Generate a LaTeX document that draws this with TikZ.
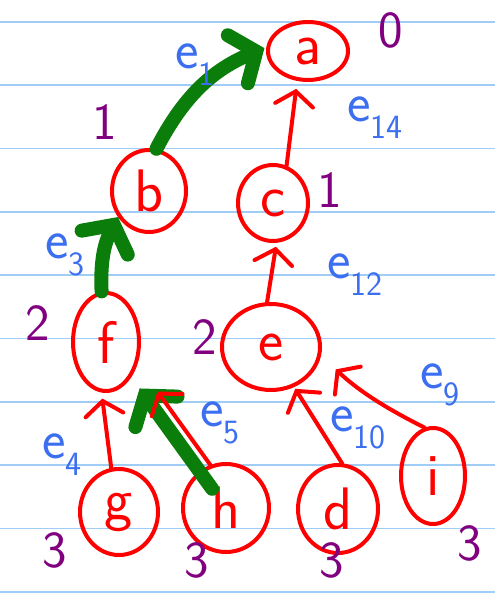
\documentclass[tikz,border=0pt]{standalone}
\usepackage{fontspec}
\usetikzlibrary{shapes.geometric,arrows.meta}
\definecolor{inkred}{RGB}{255,0,0}
\definecolor{inkgreen}{RGB}{10,125,10}
\definecolor{inkblue}{RGB}{60,110,240}
\definecolor{inkpurple}{RGB}{128,0,128}
\definecolor{ruled}{RGB}{160,205,245}
\newcommand{\elab}[1]{e\raisebox{-0.3em}{\fontsize{34}{34}\selectfont #1}}
\tikzset{
  vertex/.style={
    shape = ellipse,
    draw = inkred,
    text = inkred,
    line width = 4pt,
    inner sep = 0pt,
    font = \sffamily\fontsize{60}{60}\selectfont
  },
  treeedge/.style={
    draw = inkred,
    line width = 4pt,
    line cap = round,
    -{Straight Barb[length=14pt,width=38pt,line cap=round]}
  },
  pathedge/.style={
    draw = inkgreen,
    line width = 14pt,
    line cap = round,
    -{Straight Barb[length=20pt,width=52pt,line cap=round]}
  },
  level/.style={
    text = inkpurple,
    inner sep = 0pt,
    font = \sffamily\fontsize{52}{52}\selectfont
  },
  edgename/.style={
    text = inkblue,
    inner sep = 0pt,
    font = \sffamily\fontsize{56}{56}\selectfont
  },
  ruling/.style={draw = ruled, line width = 1.8pt}
}
\begin{document}
\begin{tikzpicture}[x=1pt,y=-1pt]
  \useasboundingbox (0,0) rectangle (495,593);
  \foreach \y in {22,85.3,...,593}
    \draw[ruling] (0,\y) -- (495,\y);
  % the tree
  \foreach \n/\x/\y/\w/\h in {a/308/51/80/58, b/149/191/74/82, c/273/203/70/76,
      f/106/342/66/98, e/271/347/98/86, g/119/512/78/86, h/226/508/86/88,
      d/338/509/80/88, i/433/476/64/96}
    \node[vertex, minimum width=\w pt, minimum height=\h pt] (\n) at (\x,\y) {\n};
  % green path first, red edges over it
  \draw[pathedge, shorten <=-22pt, shorten >=14pt] (h) -- (f);
  \draw[pathedge] (f.95) to[bend left=15] (b.-140);
  \draw[pathedge, shorten >=2pt] (b.80) to[bend left=20] (a.175);
  \draw[treeedge, shorten >=8pt] (c.70) -- (a.-110);
  \draw[treeedge, shorten >=4pt] (e.95) -- (c.-85);
  \draw[treeedge, shorten >=6pt] (g.100) -- (f.-95);
  \draw[treeedge, shorten >=34pt] (h.110) -- (f.-35);
  \draw[treeedge, shorten >=2pt] (d.85) -- (e.-60);
  \draw[treeedge, shorten >=20pt] (i.100) to[bend left=8] (e.-10);
  % levels
  \foreach \n/\x/\y/\t in {la/391/30/0, lb/105/122/1, lc/330/190/1, lf/38/323/2,
      le/205/337/2, lg/55/550/3, lh/197/560/3, ld/332/560/3, li/470/543/3}
    \node[level] (\n) at (\x,\y) {\t};
  % edge names
  \foreach \n/\x/\y/\t in {n1/195/65/1, n14/375/118/14, n3/65/255/3, n12/355/275/12,
      n4/62/455/4, n5/220/423/5, n10/358/428/10, n9/440/385/9}
    \node[edgename] (\n) at (\x,\y) {\elab{\t}};
\end{tikzpicture}
\end{document}
